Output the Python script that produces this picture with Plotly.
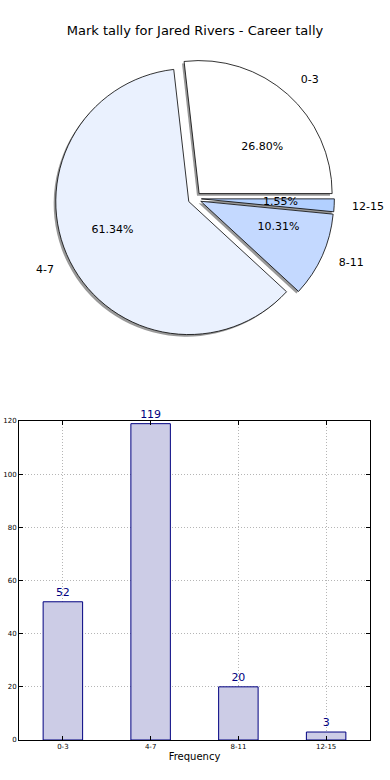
import plotly.graph_objects as go

categories = ["0-3", "4-7", "8-11", "12-15"]
counts = [52, 119, 20, 3]
slice_colors = ["#ffffff", "#eaf1fe", "#c4d9ff", "#b2d0ff"]
title_text = "Mark tally for Jared Rivers - Career tally"
y_ticks = [0, 20, 40, 60, 80, 100, 120]

total = sum(counts)
# matplotlib-style: first slice starts at 3 o'clock, counterclockwise
rotation = 90 - 360 * counts[0] / total

PLOT_W, PLOT_H = 351.0, 700.0
R_PX = 133.0          # pie radius in px
EXPLODE = 0.05        # explode as fraction of pie radius
cx, cy = 0.5006, 0.7735  # pie centre in plot-area fractions


def pie_domain(scale, dx=0.0, dy=0.0):
    """domain for a pie whose radius is scale*R_PX with the same explode offset"""
    rad = scale * R_PX
    half = rad + EXPLODE * R_PX
    hw, hh = half / PLOT_W, half / PLOT_H
    return dict(x=[cx - hw + dx, cx + hw + dx], y=[cy - hh + dy, cy + hh + dy])


def pulls(scale):
    return [EXPLODE / scale] * len(counts)


common = dict(labels=categories, values=counts, sort=False, automargin=False,
              direction="counterclockwise", rotation=rotation, showlegend=False)

# shadow pie
fig = go.Figure()
fig.add_trace(go.Pie(
    **common, pull=pulls(1.0), textinfo="none", hoverinfo="skip",
    marker=dict(colors=["rgba(110,110,110,0.7)"] * 4, line=dict(width=0)),
    domain=pie_domain(1.0, dx=-0.006, dy=-0.003),
))
# main pie
fig.add_trace(go.Pie(
    **common, pull=pulls(1.0), textinfo="none",
    marker=dict(colors=slice_colors, line=dict(color="black", width=0.8)),
    domain=pie_domain(1.0),
))
# transparent larger pie holding category labels
fig.add_trace(go.Pie(
    **common, pull=pulls(1.11), texttemplate="%{label}", textposition="outside",
    textfont=dict(family="DejaVu Sans", size=11, color="black"),
    marker=dict(colors=["rgba(0,0,0,0)"] * 4, line=dict(width=0)),
    domain=pie_domain(1.11), hoverinfo="skip",
))
# transparent small pie holding percentage labels
fig.add_trace(go.Pie(
    **common, pull=pulls(0.44), texttemplate="%{percent:.2%}", textposition="outside",
    textfont=dict(family="DejaVu Sans", size=11, color="black"),
    marker=dict(colors=["rgba(0,0,0,0)"] * 4, line=dict(width=0)),
    domain=pie_domain(0.44), hoverinfo="skip",
))

fig.add_trace(go.Bar(
    x=categories, y=counts, width=0.45,
    marker=dict(color="rgb(204,204,230)", line=dict(color="navy", width=1)),
    text=[str(c) for c in counts], textposition="outside",
    textfont=dict(family="DejaVu Sans", size=11, color="navy"),
    cliponaxis=False, showlegend=False,
))

axis_common = dict(
    showgrid=True, gridcolor="#b5b5b5", griddash="1px,2px", gridwidth=1,
    showline=True, linecolor="black", mirror="ticks", linewidth=1,
    ticks="inside", ticklen=4, tickcolor="black",
    tickfont=dict(family="DejaVu Sans", size=7, color="black"),
    zeroline=False, fixedrange=True, automargin=False,
)

fig.update_layout(
    width=390, height=780,
    margin=dict(l=19, r=20, t=40, b=40, autoexpand=False),
    paper_bgcolor="white", plot_bgcolor="white",
    title=dict(text=title_text, x=0.5, xanchor="center", y=1 - 30 / 780, yanchor="middle",
               font=dict(family="DejaVu Sans", size=13, color="black")),
    xaxis=dict(domain=[0, 1], range=[-0.5, 3.5],
               title=dict(text="Frequency", standoff=2,
                          font=dict(family="DejaVu Sans", size=10, color="black")),
               **axis_common),
    yaxis=dict(domain=[0, 0.4557], range=[0, 120], tickvals=y_ticks, **axis_common),
    font=dict(family="DejaVu Sans"),
)

fig.write_html("out.html", config={"displayModeBar": False},
               post_script="document.body.style.margin='0';")
